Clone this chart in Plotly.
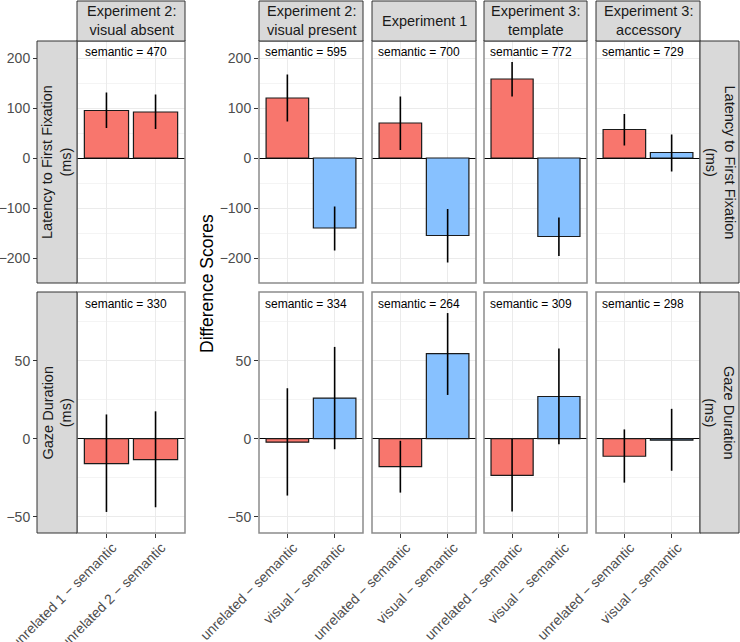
import plotly.graph_objects as go

W, H = 740, 642

# facet labels
panels = ["Experiment 2:<br>visual absent", "Experiment 2:<br>visual present",
          "Experiment 1", "Experiment 3:<br>template", "Experiment 3:<br>accessory"]
rows = ["Latency to First Fixation<br>(ms)", "Gaze Duration<br>(ms)"]

# tick labels per panel
cats_absent = ["unrelated 1 \u2212 semantic", "unrelated 2 \u2212 semantic"]
cats_present = ["unrelated \u2212 semantic", "visual \u2212 semantic"]

# latency to first fixation (difference scores, ms)
lat_mean = [[95, 92], [120, -140], [70, -155], [158, -157], [57, 11]]
lat_lo = [[60, 58], [73, -185], [16, -209], [123, -196], [25, -27]]
lat_hi = [[131, 127], [167, -97], [123, -102], [192, -119], [88, 47]]
lat_semantic = [470, 595, 700, 772, 729]

# gaze duration (difference scores, ms)
gaze_mean = [[-16, -13.5], [-2.3, 26], [-18, 54.5], [-23.5, 27], [-11.3, -1]]
gaze_lo = [[-47, -44], [-36.5, -6.8], [-34.6, 28], [-46.7, -3.6], [-28.2, -20.6]]
gaze_hi = [[15.5, 17.5], [32.3, 58.8], [-1.4, 80.5], [-0.2, 57.8], [5.9, 19.1]]
gaze_semantic = [330, 334, 264, 309, 298]

red = '#F8766D'
blue = '#87C1FF'
bar_colors = [[red, red], [red, blue], [red, blue], [red, blue], [red, blue]]

font_family = 'Liberation Sans, Arial, sans-serif'
tick_color = '#4D4D4D'

col_px = [(77, 185), (259, 363), (372, 476), (484, 587), (596, 700)]
row_px = [(41, 283), (292, 533)]
row_range = [[-250, 234], [-60.5, 94]]
row_dtick = [100, 50]


def px(x):
    return x / W


def py(y):
    return 1 - y / H


def paper_text(x, y, text, size, color='#1A1A1A', angle=0):
    fig.add_annotation(x=px(x), y=py(y), xref='paper', yref='paper', text=text,
                       xanchor='center', yanchor='middle', textangle=angle, showarrow=False,
                       font=dict(size=size, color=color, family=font_family))


fig = go.Figure()
data_rows = [(lat_mean, lat_lo, lat_hi, lat_semantic, 211),
             (gaze_mean, gaze_lo, gaze_hi, gaze_semantic, 86)]

for r, (means, los, his, sems, ann_y) in enumerate(data_rows):
    for c in range(5):
        n = r * 5 + c + 1
        xa = 'x' if n == 1 else 'x%d' % n
        ya = 'y' if n == 1 else 'y%d' % n
        m = means[c]
        up = [his[c][i] - m[i] for i in range(2)]
        dn = [m[i] - los[c][i] for i in range(2)]
        fig.add_trace(go.Bar(
            x=[1, 2], y=m, width=0.9, xaxis=xa, yaxis=ya,
            marker=dict(color=bar_colors[c], line=dict(color='#1A1A1A', width=1.2)),
            error_y=dict(type='data', array=up, arrayminus=dn, symmetric=False,
                         color='black', thickness=1.6, width=0),
            showlegend=False, hoverinfo='y'))
        fig.add_annotation(x=1.4, y=ann_y, xref=xa, yref=ya, text='semantic = %d' % sems[c],
                           xanchor='center', yanchor='middle', showarrow=False,
                           font=dict(size=12, color='black', family=font_family))

        cats = cats_absent if c == 0 else cats_present
        xkey = 'xaxis' if n == 1 else 'xaxis%d' % n
        ykey = 'yaxis' if n == 1 else 'yaxis%d' % n
        fig.layout[xkey] = dict(
            domain=[px(col_px[c][0]), px(col_px[c][1])], anchor=ya, range=[0.4, 2.6],
            tickvals=[1, 2], ticktext=cats, showgrid=True, gridcolor='#EBEBEB', gridwidth=1,
            showticklabels=(r == 1), ticks='outside' if r == 1 else '', ticklen=4,
            tickcolor='#333333', tickangle=-45, zeroline=False, showline=False, automargin=False,
            ticklabelshift=6, ticklabelstandoff=-4,
            tickfont=dict(size=14, color=tick_color, family=font_family))
        yax = dict(
            domain=[py(row_px[r][1]), py(row_px[r][0])], range=row_range[r],
            dtick=row_dtick[r], showgrid=True, gridcolor='#EBEBEB', gridwidth=1,
            minor=dict(dtick=row_dtick[r] / 2, showgrid=True, gridcolor='#F4F4F4', gridwidth=1),
            zeroline=True, zerolinecolor='black', zerolinewidth=1.2, showline=False,
            ticks='outside', ticklen=4, tickcolor='#333333', automargin=False,
            tickfont=dict(size=14, color=tick_color, family=font_family))
        if c == 0:
            yax.update(anchor='free', position=px(37))
        else:
            yax.update(anchor=xa)
            if c > 1:
                yax.update(showticklabels=False, ticks='')
        fig.layout[ykey] = yax

        # panel border
        fig.add_shape(type='rect', xref='paper', yref='paper',
                      x0=px(col_px[c][0]), x1=px(col_px[c][1]),
                      y0=py(row_px[r][1]), y1=py(row_px[r][0]),
                      line=dict(color='#8C8C8C', width=1.5), layer='above')

# top strips
for c in range(5):
    fig.add_shape(type='rect', xref='paper', yref='paper',
                  x0=px(col_px[c][0]), x1=px(col_px[c][1]), y0=py(41), y1=py(1),
                  fillcolor='#D9D9D9', line=dict(color='#333333', width=1))
    paper_text((col_px[c][0] + col_px[c][1]) / 2, 21, panels[c], 14.5)

# row strips: left of the first column, right of the last
for r in range(2):
    for (x0, x1, ang) in [(37, 77, -90), (700, 739, 90)]:
        fig.add_shape(type='rect', xref='paper', yref='paper',
                      x0=px(x0), x1=px(x1), y0=py(row_px[r][1]), y1=py(row_px[r][0]),
                      fillcolor='#D9D9D9', line=dict(color='#333333', width=1))
        paper_text((x0 + x1) / 2, (row_px[r][0] + row_px[r][1]) / 2, rows[r], 14.5, angle=ang)

paper_text(207, 283, 'Difference Scores', 17.5, color='black', angle=-90)

fig.update_layout(template='none', width=W, height=H, margin=dict(l=0, r=0, t=0, b=0),
                  paper_bgcolor='white', plot_bgcolor='white', barmode='overlay',
                  font=dict(family=font_family))

fig.write_html("out.html", config={'displayModeBar': False},
               post_script="document.body.style.margin='0px';")
